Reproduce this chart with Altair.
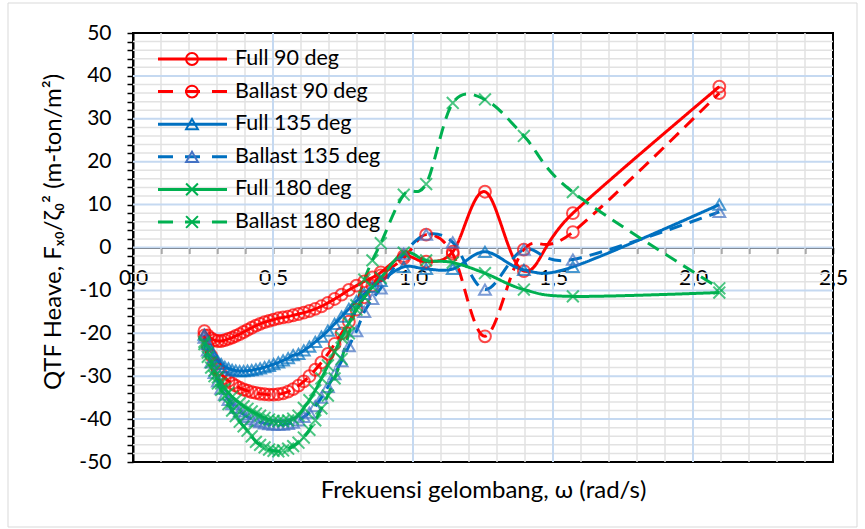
import altair as alt
import pandas as pd

FONT = "Lato"

# Wave frequencies (rad/s): dense low-frequency sweep, then the sparse high-frequency runs
OMEGA_DENSE = [0.255, 0.267, 0.279, 0.291, 0.303, 0.315, 0.328, 0.341, 0.354, 0.367,
               0.381, 0.395, 0.409, 0.424, 0.439, 0.454, 0.470, 0.486, 0.502, 0.519,
               0.536, 0.554, 0.572, 0.591, 0.610, 0.630, 0.651, 0.673, 0.696, 0.720,
               0.745, 0.771, 0.798, 0.826, 0.855, 0.885]
OMEGA_SPARSE = [0.967, 1.047, 1.142, 1.257, 1.396, 1.571, 2.094]

SERIES = ["Full 90 deg", "Ballast 90 deg", "Full 135 deg",
          "Ballast 135 deg", "Full 180 deg", "Ballast 180 deg"]

# QTF heave values (m-ton/m^2)
FULL_90 = [-19.5, -20.5, -21.2, -21.6, -21.8, -21.8, -21.6, -21.3, -21.0, -20.6,
           -20.2, -19.7, -19.2, -18.7, -18.2, -17.8, -17.4, -17.1, -16.8, -16.5,
           -16.3, -16.1, -15.8, -15.5, -15.2, -14.8, -14.3, -13.7, -12.9, -12.0,
           -11.0, -9.9, -8.9, -7.9, -7.0, -5.8,
           -2.0, -3.3, -1.0, 13.0, -5.5, 8.0, 37.5]
BALLAST_90 = [-20.5, -23.0, -25.2, -27.0, -28.4, -29.5, -30.4, -31.1, -31.7, -32.2,
              -32.7, -33.1, -33.4, -33.7, -33.9, -34.1, -34.2, -34.3, -34.3, -34.2,
              -34.0, -33.6, -33.0, -32.2, -31.2, -30.0, -28.5, -26.8, -24.8, -22.5,
              -20.0, -17.3, -14.5, -11.6, -8.9, -6.5,
              -2.5, 3.0, -1.5, -20.7, -0.5, 3.6, 36.0]
FULL_135 = [-20.3, -22.5, -24.2, -25.5, -26.5, -27.2, -27.8, -28.2, -28.5, -28.7,
            -28.8, -28.8, -28.7, -28.6, -28.4, -28.2, -27.9, -27.6, -27.2, -26.8,
            -26.3, -25.8, -25.1, -24.8, -24.0, -23.1, -22.0, -20.8, -19.4, -17.8,
            -16.1, -14.3, -12.5, -10.8, -9.2, -7.8,
            -4.5, -5.0, -5.0, -1.0, -5.2, -4.5, 10.0]
BALLAST_135 = [-21.0, -24.0, -26.8, -29.2, -31.2, -32.9, -34.3, -35.5, -36.5, -37.4,
               -38.2, -38.9, -39.5, -40.0, -40.4, -40.7, -41.0, -41.2, -41.3, -41.3,
               -41.3, -41.1, -40.8, -40.3, -39.5, -38.5, -37.0, -35.0, -32.5, -29.5,
               -26.5, -23.0, -19.5, -15.0, -12.0, -9.5,
               -1.5, 3.0, 1.2, -9.8, -0.5, -2.8, 8.3]
FULL_180 = [-22.0, -24.5, -26.8, -28.7, -30.3, -31.7, -32.9, -33.9, -34.8, -35.6,
            -36.3, -37.0, -37.6, -38.2, -38.7, -39.2, -39.7, -40.1, -40.4, -40.5,
            -40.5, -40.3, -39.9, -39.2, -37.4, -35.6, -33.3, -30.5, -27.5, -24.3,
            -21.0, -17.7, -14.5, -11.6, -9.2, -7.1,
            -1.2, -3.0, -3.5, -6.0, -9.8, -11.4, -10.5]
BALLAST_180 = [-22.5, -25.5, -28.0, -30.0, -31.7, -33.2, -34.5, -36.5, -38.0, -39.3,
               -40.6, -41.7, -42.7, -44.0, -45.3, -46.0, -46.6, -47.1, -47.4, -47.5,
               -47.3, -46.9, -46.3, -45.5, -44.3, -42.5, -40.3, -37.5, -34.5, -30.5,
               -26.0, -20.0, -13.5, -7.5, -3.0, 1.0,
               12.3, 14.8, 33.7, 34.5, 26.0, 12.9, -9.5]

VALUES = [FULL_90, BALLAST_90, FULL_135, BALLAST_135, FULL_180, BALLAST_180]

# Axis ticks and gridlines
X_TICKS = [round(i * 0.1, 1) for i in range(26)]
Y_TICKS = list(range(-50, 51, 2))
GRID_X_MAJOR = [0.5, 1.0, 1.5, 2.0]
GRID_X_MINOR = [t for t in X_TICKS if round(t * 2, 6) != round(t * 2) and 0 < t < 2.5]
GRID_Y_MAJOR = [v for v in Y_TICKS if v % 10 == 0 and -50 < v < 50]
GRID_Y_MINOR = [v for v in Y_TICKS if v % 10 != 0]

# Series styling
LINE_COLORS = ["#FF0000", "#FF0000", "#0070C0", "#0070C0", "#00B050", "#00B050"]
MARKER_COLORS = ["#FF0000", "#FF0000", "#0070C0", "#4472C4", "#00B050", "#00B050"]
DASHES = [[1, 0], [13, 8], [1, 0], [13, 8], [1, 0], [13, 8]]
X_MARK = "M-1,-1L1,1M-1,1L1,-1"
SHAPES = ["circle", "circle", "triangle-up", "triangle-up", X_MARK, X_MARK]

omega = OMEGA_DENSE + OMEGA_SPARSE
rows = []
for name, vals in zip(SERIES, VALUES):
    for w, v in zip(omega, vals):
        rows.append({"omega": w, "value": v, "series": name})
data = pd.DataFrame(rows)

W, H = 700, 429
XSCALE = alt.Scale(domain=[0, 2.5], nice=False, zero=False)
YSCALE = alt.Scale(domain=[-50, 50], nice=False, zero=False)
y0_px = H * 50 / 100.0

x_axis = alt.Axis(
    values=X_TICKS,
    labelExpr="abs(datum.value * 2 - round(datum.value * 2)) < 0.001 ? "
              "replace(format(datum.value, '.1f'), '.', ',') : ''",
    grid=False, offset=-(H - y0_px),
    domainColor="#000000", domainWidth=1.5,
    tickColor="#000000", tickWidth=1.5, tickSize=6,
    labelPadding=14, labelFont=FONT, labelFontSize=21, labelColor="#000000",
    labelFlush=False, labelOverlap=False, labelBound=False,
    title="Frekuensi gelombang, ω (rad/s)", titleFont=FONT, titleFontSize=24,
    titleFontWeight="normal", titleColor="#000000",
    titleY=(H - y0_px) + 28, titleBaseline="middle",
)
y_axis = alt.Axis(
    values=Y_TICKS,
    labelExpr="datum.value % 10 == 0 ? '' + datum.value : ''",
    grid=False,
    domainColor="#000000", domainWidth=2,
    tickColor="#000000", tickWidth=1.5, tickSize=6,
    labelPadding=16, labelFont=FONT, labelFontSize=21, labelColor="#000000",
    labelOverlap=False, labelBound=False, labelFlush=False,
    title="QTF Heave, Fₓ₀/ζ₀² (m-ton/m²)", titleFont=FONT, titleFontSize=24,
    titleFontWeight="normal", titleColor="#000000",
    titleX=-80, titleY=H / 2 - 16, titleAlign="center", titleBaseline="middle",
)

one = pd.DataFrame({"k": [0]})

frame = alt.Chart(one).mark_rect(filled=False, stroke="#D9D9D9", strokeWidth=1).encode(
    x=alt.value(-125), x2=alt.value(724), y=alt.value(-30), y2=alt.value(494)
)


def vrules(vals, color, width):
    return alt.Chart(pd.DataFrame({"omega": vals})).mark_rule(color=color, strokeWidth=width).encode(
        x=alt.X("omega:Q", scale=XSCALE, axis=x_axis)
    )


def hrules(vals, color, width):
    return alt.Chart(pd.DataFrame({"value": vals})).mark_rule(color=color, strokeWidth=width).encode(
        y=alt.Y("value:Q", scale=YSCALE, axis=y_axis)
    )


grid = [
    vrules(GRID_X_MINOR, "#E2E2E2", 1.5),
    hrules(GRID_Y_MINOR, "#E2E2E2", 1.5),
    vrules(GRID_X_MAJOR, "#C5D9F1", 2),
    hrules(GRID_Y_MAJOR, "#C5D9F1", 2),
]

lines = alt.Chart(data).mark_line(interpolate="cardinal", strokeWidth=3).encode(
    x=alt.X("omega:Q", scale=XSCALE, axis=x_axis),
    y=alt.Y("value:Q", scale=YSCALE, axis=y_axis),
    color=alt.Color("series:N", scale=alt.Scale(domain=SERIES, range=LINE_COLORS), legend=None),
    strokeDash=alt.StrokeDash("series:N", scale=alt.Scale(domain=SERIES, range=DASHES), legend=None),
)

points = alt.Chart(data).mark_point(filled=False, strokeWidth=2, size=140).encode(
    x=alt.X("omega:Q", scale=XSCALE, axis=x_axis),
    y=alt.Y("value:Q", scale=YSCALE, axis=y_axis),
    stroke=alt.Stroke("series:N", scale=alt.Scale(domain=SERIES, range=MARKER_COLORS), legend=None),
    shape=alt.Shape("series:N", scale=alt.Scale(domain=SERIES, range=SHAPES), legend=None),
)

# Legend in the upper-left corner of the plot: line sample, marker, label
legend = []
for i, name in enumerate(SERIES):
    py = 26 + 32.6 * i
    dash = [1, 0] if DASHES[i] == [1, 0] else [15, 12]
    legend.append(alt.Chart(one).mark_rule(color=LINE_COLORS[i], strokeWidth=3, strokeDash=dash).encode(
        x=alt.value(25), x2=alt.value(94), y=alt.value(py)))
    legend.append(alt.Chart(one).mark_point(shape=SHAPES[i], filled=False, size=140, strokeWidth=2,
                                            color=MARKER_COLORS[i], opacity=1).encode(
        x=alt.value(59), y=alt.value(py)))
    legend.append(alt.Chart(one).mark_text(align="left", baseline="middle", font=FONT,
                                           fontSize=21.5, color="#000000").encode(
        x=alt.value(102), y=alt.value(py), text=alt.value(name)))

chart = alt.layer(frame, *grid, lines, points, *legend).properties(
    width=W, height=H,
    autosize=alt.AutoSizeParams(type="none"),
    padding={"left": 133, "top": 33, "right": 32, "bottom": 67},
    background="#FFFFFF",
).configure_view(stroke="#000000", strokeWidth=2)

chart.save("out.html", embed_options={"renderer": "svg", "actions": False})
